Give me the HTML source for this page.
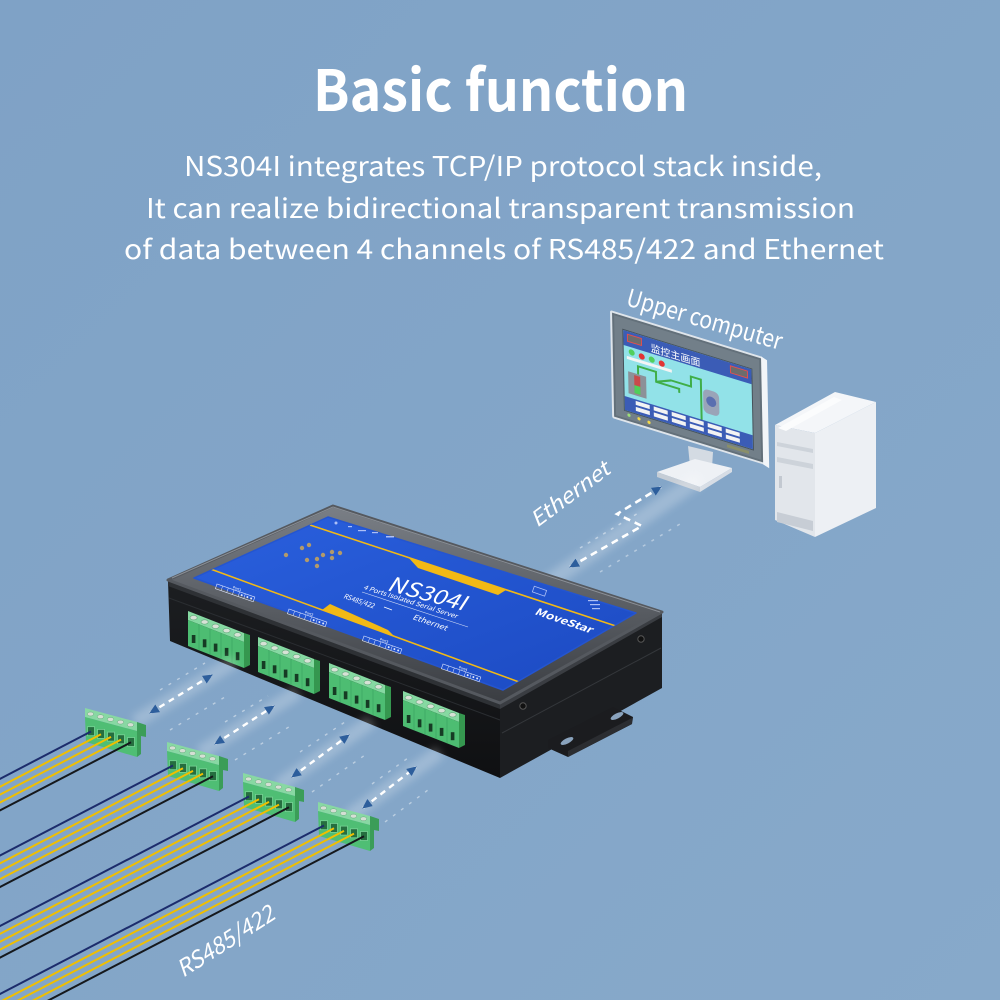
<!DOCTYPE html>
<html><head><meta charset="utf-8">
<style>
html,body{margin:0;padding:0;background:#82a5c8;}
svg{display:block}
text{font-family:"Noto Sans CJK SC","Liberation Sans",sans-serif;fill:#fff}
</style></head><body>
<svg width="1000" height="1000" viewBox="0 0 1000 1000" xmlns="http://www.w3.org/2000/svg">
<defs>
 <linearGradient id="bg" x1="0" y1="0" x2="1" y2="1"><stop offset="0" stop-color="#7fa2c6"/><stop offset="1" stop-color="#87a9ca"/></linearGradient>
 <linearGradient id="blue" x1="0" y1="0" x2="1" y2="1"><stop offset="0" stop-color="#2a60de"/><stop offset="1" stop-color="#1c4ac2"/></linearGradient>
 <linearGradient id="rim" x1="0" y1="0" x2="0" y2="1"><stop offset="0" stop-color="#7a7f86"/><stop offset="1" stop-color="#3a3d42"/></linearGradient>
 <linearGradient id="front" x1="0" y1="0" x2="0" y2="1"><stop offset="0" stop-color="#1c1e21"/><stop offset="1" stop-color="#0f1012"/></linearGradient>
 <filter id="blur" x="-50%" y="-50%" width="200%" height="200%"><feGaussianBlur stdDeviation="4"/></filter>
 <clipPath id="bclip"><polygon points="194,578 328,517 636,613 503,690"/></clipPath>
 <marker id="ar" viewBox="0 0 10 10" refX="9" refY="5" markerWidth="10" markerHeight="10" markerUnits="userSpaceOnUse" orient="auto-start-reverse"><path d="M0,0.5 L10,5 L0,9.5 Z" fill="#2d5e9c"/></marker>

 <g id="conn">
  <polygon points="0,0 56,22 56,31 0,9" fill="#86d9a2"/>
  <polygon points="0,9 56,31 56,57 0,35" fill="#4dbd72"/>
  <polygon points="56,22 62,24 62,54 56,57" fill="#35974f"/>
  <g fill="#d7e2d6" stroke="#62a77a" stroke-width="0.6">
   <ellipse cx="5.6" cy="6.7" rx="3.6" ry="2.2"/><ellipse cx="16.6" cy="11" rx="3.6" ry="2.2"/><ellipse cx="27.6" cy="15.3" rx="3.6" ry="2.2"/><ellipse cx="38.6" cy="19.6" rx="3.6" ry="2.2"/><ellipse cx="49.6" cy="23.8" rx="3.6" ry="2.2"/>
  </g>
  <g stroke="#3ea763" stroke-width="0.8">
   <line x1="11" y1="13.3" x2="11" y2="39.3"/><line x1="22" y1="17.6" x2="22" y2="43.6"/><line x1="33" y1="21.9" x2="33" y2="47.9"/><line x1="44" y1="26.2" x2="44" y2="52.2"/>
  </g>
  <g fill="#163b24">
   <rect x="3.8" y="24" width="3.6" height="8"/><rect x="14.8" y="28.3" width="3.6" height="8"/><rect x="25.8" y="32.6" width="3.6" height="8"/><rect x="36.8" y="36.9" width="3.6" height="8"/><rect x="47.8" y="41.2" width="3.6" height="8"/>
  </g>
 </g>

 <g id="plug">
  <polygon points="0,0 52,14 52,23 0,9" fill="#88d8a3"/>
  <polygon points="0,9 52,23 52,49 1,34" fill="#4fbe74"/>
  <polygon points="52,14 61,17 61,29 56,28 56,46 52,49" fill="#3b9d58"/>
  <g fill="#d5dfd4" stroke="#63a87b" stroke-width="0.5">
   <ellipse cx="5.5" cy="6" rx="3.2" ry="2"/><ellipse cx="15.5" cy="8.7" rx="3.2" ry="2"/><ellipse cx="25.5" cy="11.4" rx="3.2" ry="2"/><ellipse cx="35.5" cy="14.1" rx="3.2" ry="2"/><ellipse cx="45.5" cy="16.8" rx="3.2" ry="2"/>
  </g>
  <g fill="#256e3f" stroke="#78d496" stroke-width="0.8">
   <rect x="2.5" y="18.7" width="7" height="9"/><rect x="12.5" y="21.4" width="7" height="9"/><rect x="22.5" y="24.1" width="7" height="9"/><rect x="32.5" y="26.8" width="7" height="9"/><rect x="42.5" y="29.5" width="7" height="9"/>
  </g>
 </g>

 <g id="wires">
  <line x1="6" y1="23.5" x2="-394" y2="231.5" stroke="#1c2c6c" stroke-width="2"/>
  <line x1="16" y1="26.2" x2="-384" y2="234.2" stroke="#f0bf00" stroke-width="2"/>
  <line x1="26" y1="28.9" x2="-374" y2="236.9" stroke="#f0bf00" stroke-width="2"/>
  <line x1="36" y1="31.6" x2="-364" y2="239.6" stroke="#f0bf00" stroke-width="2"/>
  <line x1="46" y1="34.3" x2="-354" y2="242.3" stroke="#15181c" stroke-width="2"/>
 </g>

 <g id="port">
  <rect x="0" y="0" width="40" height="5" fill="none" stroke="#dfe7ff" stroke-width="0.6"/>
  <g stroke="#dfe7ff" stroke-width="0.5"><line x1="6" y1="0" x2="6" y2="5"/><line x1="12" y1="0" x2="12" y2="5"/><line x1="18" y1="0" x2="18" y2="5"/><line x1="24" y1="0" x2="24" y2="5"/><line x1="30" y1="0" x2="30" y2="5"/></g>
  <g fill="#dfe7ff"><circle cx="27" cy="2.5" r="1"/><circle cx="33" cy="2.5" r="1"/><circle cx="37" cy="2.5" r="1"/></g>
 </g>
</defs>

<rect width="1000" height="1000" fill="url(#bg)"/>

<!-- Title -->
<text x="313" y="111" font-size="57" font-weight="700" textLength="375" lengthAdjust="spacingAndGlyphs">Basic function</text>
<text x="184" y="176" font-size="27" textLength="638" lengthAdjust="spacingAndGlyphs">NS304I integrates TCP/IP protocol stack inside,</text>
<text x="146" y="218" font-size="27" textLength="709" lengthAdjust="spacingAndGlyphs">It can realize bidirectional transparent transmission</text>
<text x="124" y="259" font-size="27" textLength="760" lengthAdjust="spacingAndGlyphs">of data between 4 channels of RS485/422 and Ethernet</text>

<!-- Upper computer label -->
<text transform="translate(625,305) rotate(16.2)" font-size="24" textLength="161" lengthAdjust="spacingAndGlyphs">Upper computer</text>

<!-- Monitor stand -->
<polygon points="688,446 713,452 712,468 690,466" fill="#d4dbe3"/>
<polygon points="657,472 695,459 732,468 700,487" fill="#eef1f5"/>
<polygon points="657,472 700,487 700,492 657,477" fill="#c5cdd6"/>
<polygon points="700,487 732,468 732,472 700,492" fill="#d7dde5"/>

<!-- Monitor -->
<g transform="matrix(1,0.307,0.02,1,610,310)">
 <rect x="0" y="0" width="153" height="108" rx="2" fill="#dfe5eb"/>
 <polygon points="151,0 157,2 157,110 151,108" fill="#f2f5f8"/>
 <rect x="2" y="2" width="149" height="104" fill="#63707a"/>
 <rect x="4" y="4" width="145" height="100" fill="#727f89"/>
 <rect x="12" y="15" width="130" height="82" fill="#46525b"/>
 <rect x="13" y="16" width="128" height="80" fill="#92e2e8"/>
 <rect x="13" y="16" width="128" height="15" fill="#3b5cb6"/>
 <rect x="17" y="19" width="14" height="7" fill="#6c6c6c" stroke="#e05050" stroke-width="1"/>
 <rect x="120" y="19" width="17" height="7" fill="#6c6c6c" stroke="#e05050" stroke-width="1"/>
 <text x="40" y="29" font-size="10" style="font-family:'Noto Sans CJK SC',sans-serif" fill="#fff">监控主画面</text>
 <circle cx="21" cy="36" r="3" fill="#52cf5c"/><circle cx="31" cy="37" r="3" fill="#e23434"/><circle cx="41" cy="37" r="3" fill="#52cf5c"/><circle cx="51" cy="38" r="3" fill="#e23434"/>
 <rect x="16" y="41" width="45" height="3" fill="#f4f4f4"/>
 <rect x="17" y="56" width="18" height="22" fill="#8c9198"/>
 <rect x="23" y="58" width="6" height="18" fill="#c94a4a"/>
 <rect x="23" y="68" width="6" height="8" fill="#4fcf5a"/>
 <polyline points="27,56 27,48 45,48 45,58 68,58 68,62" fill="none" stroke="#3fae48" stroke-width="2"/>
 <polyline points="45,58 60,52 80,52 80,42 90,42 90,86" fill="none" stroke="#3fae48" stroke-width="2"/>
 <rect x="92" y="50" width="16" height="24" rx="5" fill="#9aa4b8"/>
 <circle cx="100" cy="61" r="5" fill="#5a6fb0"/>
 <rect x="13" y="82" width="128" height="14" fill="#3b5cb6"/>
 <g fill="#f3f3f3">
  <rect x="24" y="83.5" width="14" height="4"/><rect x="42" y="83.5" width="14" height="4"/><rect x="60" y="83.5" width="14" height="4"/><rect x="78" y="83.5" width="14" height="4"/><rect x="96" y="83.5" width="14" height="4"/><rect x="114" y="83.5" width="14" height="4"/>
  <rect x="24" y="89.5" width="14" height="4"/><rect x="42" y="89.5" width="14" height="4"/><rect x="60" y="89.5" width="14" height="4"/><rect x="78" y="89.5" width="14" height="4"/><rect x="96" y="89.5" width="14" height="4"/><rect x="114" y="89.5" width="14" height="4"/>
 </g>
 <circle cx="17" cy="100" r="1.6" fill="#9fe07a"/><circle cx="27" cy="100.5" r="1.6" fill="#f2d84a"/><circle cx="37" cy="101" r="1.6" fill="#f2d84a"/>
 <rect x="115" y="99" width="22" height="3" fill="#8a8f6a"/>
</g>

<!-- PC tower -->
<polygon points="775,425 835,392 876,402 815,433" fill="#f4f6f9"/>
<polygon points="775,425 815,433 815,537 775,520" fill="#e2e6eb"/>
<polygon points="815,433 876,402 876,508 815,537" fill="#edf0f4"/>
<polygon points="778,428 834,397 842,400 786,431" fill="#fbfcfd"/>
<polygon points="777,442 813,449 813,453 777,446" fill="#cdd3da"/>
<polygon points="777,457 813,464 813,469 777,462" fill="#cdd3da"/>
<rect x="779" y="476" width="3" height="12" fill="#c3c9d1"/>
<polygon points="777,512 813,521 813,531 777,522" fill="#c7cdd5"/>

<!-- Ethernet glow + arrows -->
<line x1="545" y1="585" x2="700" y2="478" stroke="#ffffff" stroke-width="16" opacity="0.22" filter="url(#blur)"/>
<line x1="580" y1="548" x2="640" y2="512" stroke="#fff" stroke-width="1.5" stroke-dasharray="3 6" opacity="0.45"/>
<line x1="600" y1="572" x2="680" y2="524" stroke="#fff" stroke-width="1.5" stroke-dasharray="3 7" opacity="0.4"/>
<polyline points="570,567 642,526 617,514 661,487" fill="none" stroke="#fff" stroke-width="2.6" stroke-dasharray="7 5" marker-start="url(#ar)" marker-end="url(#ar)"/>
<text transform="translate(537,528) rotate(-36.7)" font-size="21" font-style="italic" textLength="93" lengthAdjust="spacingAndGlyphs">Ethernet</text>

<!-- Device -->
<polygon points="168,581 500,704 500,778 170,641" fill="url(#front)"/>
<polygon points="168,581 500,704 500,709 168,586" fill="#2e3135"/>
<line x1="169" y1="598" x2="500" y2="720" stroke="#2a2d31" stroke-width="1"/>
<polygon points="500,704 662,612 662,688 500,778" fill="#1c1e21"/>
<polygon points="500,704 662,612 662,617 500,709" fill="#3a3d42"/>
<line x1="502" y1="733" x2="661" y2="648" stroke="#34373b" stroke-width="1"/>
<circle cx="523" cy="706" r="3.2" fill="#111" stroke="#555" stroke-width="1"/>
<circle cx="641" cy="639" r="3.2" fill="#111" stroke="#555" stroke-width="1"/>
<!-- bracket -->
<polygon points="548,740 613,707 633,717 632,724 568,757 548,748" fill="#1b1c1f"/>
<polygon points="568,751 632,718 632,724 568,757" fill="#2b2d31"/>
<ellipse cx="567" cy="741" rx="7" ry="2.6" transform="rotate(-27 567 741)" fill="#8aa3bd"/>
<ellipse cx="617" cy="716" rx="7" ry="2.6" transform="rotate(-27 617 716)" fill="#8aa3bd"/>
<!-- rim & blue face -->
<polygon points="168,580 333,506 662,612 500,703" fill="url(#rim)" stroke="#55595f" stroke-width="3" stroke-linejoin="round"/>
<line x1="172" y1="578" x2="333" y2="507" stroke="#8a8f96" stroke-width="1"/>
<line x1="333" y1="507" x2="660" y2="612" stroke="#8a8f96" stroke-width="1"/>
<polygon points="194,578 328,517 636,613 503,690" fill="url(#blue)" stroke="#2455d0" stroke-width="1.5" stroke-linejoin="round"/>
<g clip-path="url(#bclip)">
 <line x1="310" y1="525" x2="640" y2="634" stroke="#f2b915" stroke-width="1.6"/>
 <polygon points="408,557 506,590 498,595 418,568" fill="#f2b915"/>
 <line x1="205" y1="567" x2="530" y2="686" stroke="#f2b915" stroke-width="1.6"/>
 <polygon points="322,610 395,637 388,630 330,604" fill="#f2b915"/>
</g>
<!-- top face details -->
<g fill="#b39a6a">
 <circle cx="286" cy="555" r="2.2"/><circle cx="302" cy="548" r="2.2"/><circle cx="309" cy="545" r="2.2"/><circle cx="317" cy="559" r="2.2"/><circle cx="323" cy="555" r="2.2"/><circle cx="332" cy="552" r="2.2"/><circle cx="340" cy="553" r="2.2"/><circle cx="332" cy="558" r="2.2"/><circle cx="307" cy="560" r="2.2"/><circle cx="317" cy="566" r="2.2"/>
</g>
<g fill="#cfd9ff" opacity="0.8">
 <circle cx="336" cy="523" r="1.5"/><rect x="348" y="526" width="4" height="1.2"/><rect x="358" y="530" width="8" height="1.2"/><rect x="372" y="532" width="6" height="1.2"/><rect x="386" y="536" width="8" height="1.5"/>
 <rect x="533" y="588" width="13" height="6" fill="none" stroke="#cfd9ff" stroke-width="0.8" transform="rotate(19 539 591)"/>
 <rect x="588" y="600" width="10" height="1.2"/><rect x="590" y="604" width="10" height="1.2"/><rect x="592" y="608" width="8" height="1.2"/>
</g>
<text transform="translate(386,590) rotate(15) skewX(-18)" font-size="21" textLength="80" lengthAdjust="spacingAndGlyphs">NS304I</text>
<text transform="translate(363,589) rotate(17.5)" font-size="6.5" font-style="italic" textLength="98" lengthAdjust="spacingAndGlyphs">4 Ports Isolated Serial Server</text>
<line x1="362" y1="592" x2="468" y2="627" stroke="#fff" stroke-width="0.6" opacity="0.8"/>
<text transform="translate(343,598) rotate(19)" font-size="7" font-style="italic" textLength="32" lengthAdjust="spacingAndGlyphs">RS485/422</text>
<line x1="384" y1="607" x2="392" y2="610" stroke="#fff" stroke-width="0.7"/>
<text transform="translate(412,619) rotate(19)" font-size="7.5" font-style="italic" textLength="36" lengthAdjust="spacingAndGlyphs">Ethernet</text>
<text transform="translate(534,614) rotate(19)" font-size="10" font-weight="700" font-style="italic" textLength="60" lengthAdjust="spacingAndGlyphs">MoveStar</text>
<g transform="translate(217,584) rotate(19)"><use href="#port"/><text x="16" y="-1" font-size="3.5" fill="#dfe7ff">Port1</text></g>
<g transform="translate(289,609) rotate(19)"><use href="#port"/><text x="16" y="-1" font-size="3.5" fill="#dfe7ff">Port2</text></g>
<g transform="translate(364,636) rotate(19)"><use href="#port"/><text x="16" y="-1" font-size="3.5" fill="#dfe7ff">Port3</text></g>
<g transform="translate(443,664) rotate(19)"><use href="#port"/><text x="16" y="-1" font-size="3.5" fill="#dfe7ff">Port4</text></g>

<!-- device connectors -->
<use href="#conn" x="188" y="611"/>
<use href="#conn" x="258" y="637"/>
<use href="#conn" x="329" y="663"/>
<use href="#conn" x="403" y="691"/>

<!-- RS485 glows and arrows -->
<g stroke="#fff" opacity="0.22" filter="url(#blur)" stroke-width="14">
 <line x1="135" y1="722" x2="235" y2="661"/>
 <line x1="200" y1="753" x2="298" y2="692"/>
 <line x1="278" y1="786" x2="372" y2="721"/>
 <line x1="348" y1="817" x2="440" y2="752"/>
</g>
<g stroke="#fff" stroke-width="1.4" opacity="0.45" stroke-dasharray="3 7">
 <line x1="170" y1="730" x2="230" y2="694"/><line x1="160" y1="690" x2="205" y2="663"/>
 <line x1="235" y1="760" x2="292" y2="725"/><line x1="225" y1="722" x2="268" y2="696"/>
 <line x1="312" y1="792" x2="365" y2="755"/><line x1="300" y1="752" x2="345" y2="722"/>
 <line x1="385" y1="822" x2="432" y2="787"/><line x1="372" y1="784" x2="412" y2="755"/>
</g>
<g stroke="#fff" stroke-width="2.4" stroke-dasharray="6 5" fill="none">
 <line x1="150" y1="713" x2="212" y2="675" marker-start="url(#ar)" marker-end="url(#ar)"/>
 <line x1="215" y1="744" x2="274" y2="706" marker-start="url(#ar)" marker-end="url(#ar)"/>
 <line x1="292" y1="777" x2="349" y2="735" marker-start="url(#ar)" marker-end="url(#ar)"/>
 <line x1="363" y1="808" x2="416" y2="767" marker-start="url(#ar)" marker-end="url(#ar)"/>
</g>

<!-- loose plugs and wires -->
<use href="#plug" x="85" y="708"/><use href="#wires" x="85" y="708"/>
<use href="#plug" x="167" y="742"/><use href="#wires" x="167" y="742"/>
<use href="#plug" x="243" y="773"/><use href="#wires" x="243" y="773"/>
<use href="#plug" x="318" y="802"/><use href="#wires" x="318" y="802"/>

<text transform="translate(183,978) rotate(-32.6)" font-size="23" font-style="italic" textLength="111" lengthAdjust="spacingAndGlyphs">RS485/422</text>
</svg>
</body></html>
